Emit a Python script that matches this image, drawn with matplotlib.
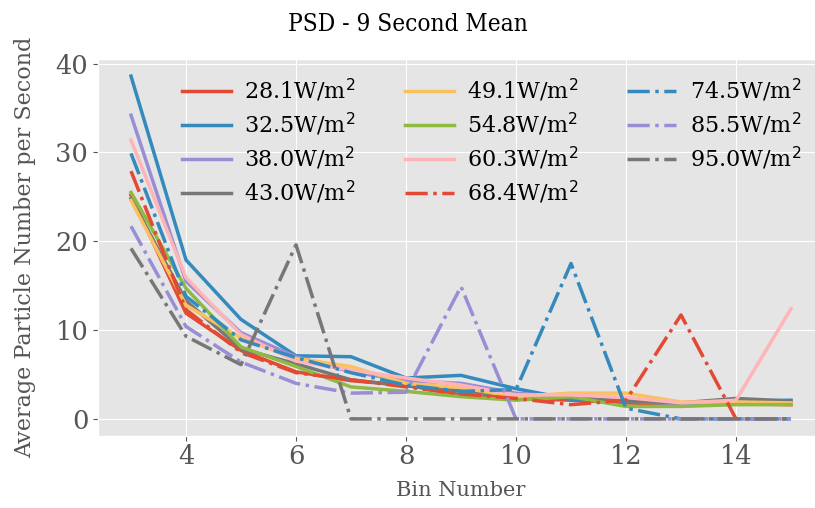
import matplotlib
matplotlib.use("Agg")
import matplotlib.pyplot as plt

plt.style.use("ggplot")
plt.rcParams["font.family"] = ["DejaVu Serif"]

bins = [3, 4, 5, 6, 7, 8, 9, 10, 11, 12, 13, 14, 15]

labels = ["28.1", "32.5", "38.0", "43.0", "49.1", "54.8", "60.3",
          "68.4", "74.5", "85.5", "95.0"]

psd_28_1 = [25.2, 11.9, 7.7, 5.3, 4.3, 3.8, 2.7, 2.3, 2.1, 1.8, 1.6, 1.7, 1.6]
psd_32_5 = [38.6, 17.9, 11.2, 7.1, 7.0, 4.6, 4.9, 3.4, 2.2, 2.0, 1.7, 2.0, 2.1]
psd_38_0 = [34.2, 15.5, 9.7, 7.0, 5.3, 4.3, 4.0, 2.9, 2.4, 2.0, 1.7, 2.0, 1.9]
psd_43_0 = [24.8, 13.3, 7.9, 6.2, 4.4, 3.7, 3.2, 2.5, 2.4, 2.0, 1.8, 2.3, 2.0]
psd_49_1 = [24.6, 12.8, 9.1, 6.8, 5.9, 4.0, 3.5, 2.5, 2.9, 2.9, 1.9, 1.9, 1.8]
psd_54_8 = [25.5, 14.7, 8.1, 5.9, 3.6, 3.1, 2.5, 2.1, 2.5, 1.4, 1.4, 1.6, 1.6]
psd_60_3 = [31.4, 15.9, 9.5, 6.5, 5.5, 4.6, 3.8, 2.7, 2.7, 2.4, 1.8, 2.1, 12.4]
psd_68_4 = [27.9, 12.3, 7.5, 5.2, 4.4, 3.6, 2.8, 2.3, 1.6, 2.1, 11.7, 0.0, 0.0]
psd_74_5 = [29.9, 13.8, 8.9, 6.9, 5.2, 3.8, 3.1, 3.3, 17.5, 1.2, 0.0, 0.0, 0.0]
psd_85_5 = [21.7, 10.4, 6.4, 4.0, 2.9, 3.0, 14.9, 0.0, 0.0, 0.0, 0.0, 0.0, 0.0]
psd_95_0 = [19.2, 9.3, 6.1, 19.6, 0.0, 0.0, 0.0, 0.0, 0.0, 0.0, 0.0, 0.0, 0.0]

series = [psd_28_1, psd_32_5, psd_38_0, psd_43_0, psd_49_1, psd_54_8, psd_60_3,
          psd_68_4, psd_74_5, psd_85_5, psd_95_0]

fig = plt.figure(figsize=(8.15, 5.08), dpi=100)
ax = fig.add_axes([98 / 815, 1 - 436 / 508, 726 / 815, 377 / 508])

for i, (lab, vals) in enumerate(zip(labels, series)):
    ls = "-" if i < 7 else "-."
    ax.plot(bins, vals, ls, lw=2.5, label=lab + r"W/m$^2$")

ax.set_xlabel("Bin Number", fontsize=15, color="#555555", labelpad=9)
ax.set_ylabel("Average Particle Number per Second", fontsize=16,
              color="#555555", labelpad=14)
ax.tick_params(axis="both", labelsize=18.5, colors="#555555")
ax.tick_params(axis="x", pad=2)
ax.set_xticks([4, 6, 8, 10, 12, 14])
ax.set_yticks([0, 10, 20, 30, 40])

leg = ax.legend(ncol=3, fontsize=16, frameon=False, loc="upper right",
                bbox_to_anchor=(0.996, 1.005), columnspacing=2.2,
                handlelength=2.2, handletextpad=0.6, labelspacing=0.3)

fig.suptitle("PSD - 9 Second Mean", fontsize=17.5, y=0.975,
             fontstretch="condensed")

fig.savefig("out.png", dpi=100)
